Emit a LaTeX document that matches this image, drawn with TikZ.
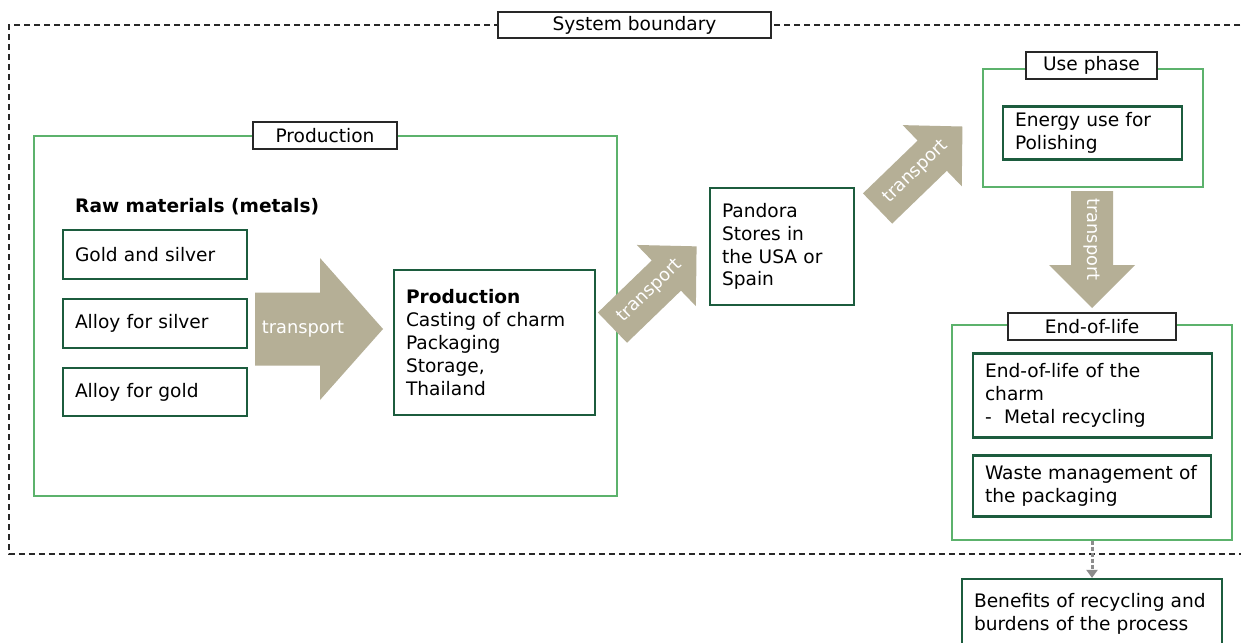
\documentclass[tikz,border=0pt]{standalone}
\usepackage{fontspec}
\setmainfont{DejaVu Sans}
\usetikzlibrary{arrows.meta}

\definecolor{frameGreen}{RGB}{92,178,108}
\definecolor{boxGreen}{RGB}{28,92,62}
\definecolor{arrowKhaki}{RGB}{181,175,150}
\definecolor{boundaryGrey}{RGB}{40,40,40}
\definecolor{linkGrey}{RGB}{140,140,140}

% block arrow: #1 name, #2 centre, #3 angle, #4 length, #5 shaft width,
% #6 head width, #7 head length, #8 text offset back from centre
\newcommand{\transportarrow}[8]{%
  \begin{scope}[shift={#2}, rotate=#3]
    \fill[arrowKhaki] (-#4/2,-#5/2) -- (#4/2-#7,-#5/2) -- (#4/2-#7,-#6/2)
      -- (#4/2,0) -- (#4/2-#7,#6/2) -- (#4/2-#7,#5/2) -- (-#4/2,#5/2) -- cycle;
    \node[arrowtext, transform shape] (#1) at (-#8,0) {transport};
  \end{scope}}

\tikzset{
  greenframe/.style={draw=frameGreen, line width=1.4pt, inner sep=0pt},
  stagebox/.style={draw=boxGreen, line width=2.2pt, fill=white, align=left,
    inner xsep=12pt, inner ysep=0pt},
  labelbox/.style={draw=boundaryGrey, line width=1.5pt, fill=white,
    inner sep=0pt},
  arrowtext/.style={text=white, inner sep=0pt,
    font=\fontsize{17.8}{20}\selectfont},
  boundary/.style={draw=boundaryGrey, line width=1.4pt,
    dash pattern=on 6pt off 4pt},
  reuse/.style={draw=linkGrey, line width=3pt, dash pattern=on 4pt off 2pt,
    -{Triangle[width=11pt,length=8pt]}},
}

\begin{document}
\begin{tikzpicture}[x=1pt, y=-1pt, font=\fontsize{18.6}{22.9}\selectfont]
  \useasboundingbox (0,0) rectangle (1241,642);
  \clip (0,0) rectangle (1241,642);
  \fill[white] (0,0) rectangle (1241,642);

  % system boundary (open towards the right edge)
  \path[boundary] (1260,25) -| (9,554) -- (1260,554);
  \node[labelbox, minimum width=273pt, minimum height=26pt] (sysb) at (634.5,25) {System boundary};

  % production stage
  \node[greenframe, minimum width=583pt, minimum height=360pt] (prodframe) at (325.5,316) {};
  \node[labelbox, minimum width=144pt, minimum height=27pt] (prodlabel) at (325,135.5) {Production};
  \node[anchor=west, inner sep=0pt, font=\fontsize{18.6}{22.9}\selectfont\bfseries] (rawtitle) at (75,207) {Raw materials (metals)};
  \node[stagebox, text width=160pt, minimum height=49pt] (gold) at (155,254.5) {Gold and silver};
  \node[stagebox, text width=160pt, minimum height=49pt] (alloysilver) at (155,323.5) {Alloy for silver};
  \node[stagebox, text width=160pt, minimum height=48pt] (alloygold) at (155,392) {Alloy for gold};
  \node[stagebox, text width=177pt, minimum height=145pt] (prod) at (494.5,342.5)
    {\textbf{Production}\\Casting of charm\\Packaging\\Storage,\\Thailand};

  % distribution
  \node[stagebox, text width=120pt, minimum height=117pt] (stores) at (782,246.5)
    {Pandora\\Stores in\\the USA or\\Spain};

  % use phase
  \node[greenframe, minimum width=220pt, minimum height=118pt] (useframe) at (1093,128) {};
  \node[labelbox, minimum width=131pt, minimum height=27pt] (uselabel) at (1091.5,65.5) {Use phase};
  \node[stagebox, text width=155pt, minimum height=53pt] (energy) at (1092.5,133)
    {Energy use for\\Polishing};

  % end of life
  \node[greenframe, minimum width=280pt, minimum height=215pt] (eolframe) at (1092,432.5) {};
  \node[labelbox, minimum width=168pt, minimum height=27pt] (eollabel) at (1092,326.5) {End-of-life};
  \node[stagebox, text width=215pt, minimum height=84pt] (eolcharm) at (1092.5,395.5)
    {End-of-life of the\\charm\\-\ \ Metal recycling};
  \node[stagebox, text width=214pt, minimum height=61pt] (waste) at (1092,486)
    {Waste management of\\the packaging};

  % outside the boundary
  \node[stagebox, text width=236pt, minimum height=70pt] (benefits) at (1092,614)
    {Benefits of recycling and\\burdens of the process};
  \draw[reuse] (eolframe.south) -- (benefits.north);

  % transport steps
  \transportarrow{tr1}{(319,329)}{0}{128}{73}{142}{63}{16}
  \transportarrow{tr2}{(654.5,287)}{44}{117}{42}{85}{42}{6}
  \transportarrow{tr3}{(920,167.5)}{44}{118}{42}{85}{42}{6}
  \transportarrow{tr4}{(1092,249.5)}{-90}{117}{42}{86}{43}{10}
\end{tikzpicture}
\end{document}
